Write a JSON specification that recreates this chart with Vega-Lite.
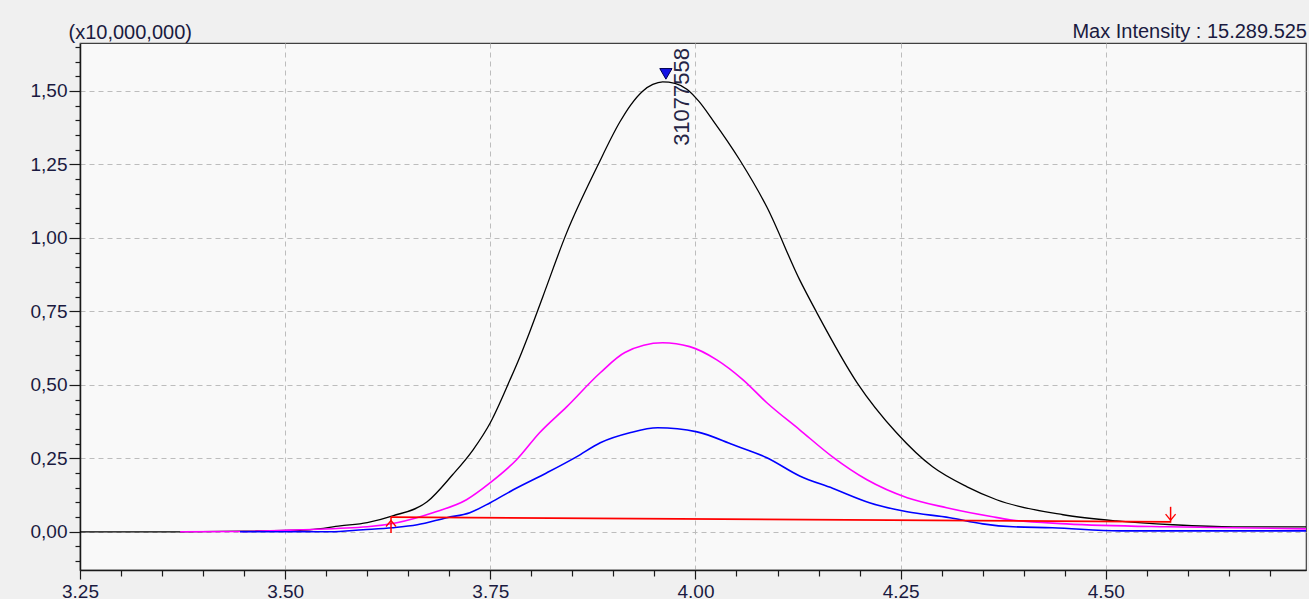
{
  "$schema": "https://vega.github.io/schema/vega-lite/v6.json",
  "autosize": {"type": "none"},
  "padding": {"left": 80, "top": 43, "right": 3, "bottom": 29},
  "width": 1226,
  "height": 527,
  "background": "#f0f0f0",
  "config": {
    "view": {"fill": "#f9f9f9", "stroke": "#404040", "strokeWidth": 1.2},
    "font": "Liberation Sans"
  },
  "datasets": {
    "curves": [
      {"series": "Total", "t": 3.250, "v": 0.000},
      {"series": "Total", "t": 3.372, "v": 0.000},
      {"series": "Total", "t": 3.450, "v": 0.002},
      {"series": "Total", "t": 3.530, "v": 0.007},
      {"series": "Total", "t": 3.567, "v": 0.020},
      {"series": "Total", "t": 3.600, "v": 0.031},
      {"series": "Total", "t": 3.631, "v": 0.054},
      {"series": "Total", "t": 3.673, "v": 0.102},
      {"series": "Total", "t": 3.704, "v": 0.194},
      {"series": "Total", "t": 3.729, "v": 0.279},
      {"series": "Total", "t": 3.750, "v": 0.371},
      {"series": "Total", "t": 3.774, "v": 0.517},
      {"series": "Total", "t": 3.786, "v": 0.595},
      {"series": "Total", "t": 3.798, "v": 0.680},
      {"series": "Total", "t": 3.814, "v": 0.800},
      {"series": "Total", "t": 3.843, "v": 1.017},
      {"series": "Total", "t": 3.880, "v": 1.241},
      {"series": "Total", "t": 3.908, "v": 1.395},
      {"series": "Total", "t": 3.921, "v": 1.452},
      {"series": "Total", "t": 3.936, "v": 1.500},
      {"series": "Total", "t": 3.948, "v": 1.522},
      {"series": "Total", "t": 3.960, "v": 1.531},
      {"series": "Total", "t": 3.975, "v": 1.526},
      {"series": "Total", "t": 3.990, "v": 1.505},
      {"series": "Total", "t": 4.004, "v": 1.465},
      {"series": "Total", "t": 4.021, "v": 1.401},
      {"series": "Total", "t": 4.054, "v": 1.265},
      {"series": "Total", "t": 4.087, "v": 1.105},
      {"series": "Total", "t": 4.127, "v": 0.857},
      {"series": "Total", "t": 4.148, "v": 0.745},
      {"series": "Total", "t": 4.197, "v": 0.507},
      {"series": "Total", "t": 4.245, "v": 0.337},
      {"series": "Total", "t": 4.289, "v": 0.221},
      {"series": "Total", "t": 4.331, "v": 0.153},
      {"series": "Total", "t": 4.367, "v": 0.109},
      {"series": "Total", "t": 4.448, "v": 0.058},
      {"series": "Total", "t": 4.513, "v": 0.037},
      {"series": "Total", "t": 4.582, "v": 0.024},
      {"series": "Total", "t": 4.655, "v": 0.017},
      {"series": "Total", "t": 4.744, "v": 0.017},

      {"series": "Ion1", "t": 3.372, "v": 0.000},
      {"series": "Ion1", "t": 3.445, "v": 0.001},
      {"series": "Ion1", "t": 3.518, "v": 0.007},
      {"series": "Ion1", "t": 3.600, "v": 0.017},
      {"series": "Ion1", "t": 3.636, "v": 0.031},
      {"series": "Ion1", "t": 3.680, "v": 0.065},
      {"series": "Ion1", "t": 3.721, "v": 0.109},
      {"series": "Ion1", "t": 3.750, "v": 0.167},
      {"series": "Ion1", "t": 3.782, "v": 0.245},
      {"series": "Ion1", "t": 3.810, "v": 0.337},
      {"series": "Ion1", "t": 3.843, "v": 0.425},
      {"series": "Ion1", "t": 3.884, "v": 0.541},
      {"series": "Ion1", "t": 3.914, "v": 0.610},
      {"series": "Ion1", "t": 3.960, "v": 0.643},
      {"series": "Ion1", "t": 3.993, "v": 0.630},
      {"series": "Ion1", "t": 4.026, "v": 0.585},
      {"series": "Ion1", "t": 4.058, "v": 0.517},
      {"series": "Ion1", "t": 4.087, "v": 0.439},
      {"series": "Ion1", "t": 4.127, "v": 0.347},
      {"series": "Ion1", "t": 4.167, "v": 0.255},
      {"series": "Ion1", "t": 4.209, "v": 0.177},
      {"series": "Ion1", "t": 4.258, "v": 0.116},
      {"series": "Ion1", "t": 4.306, "v": 0.082},
      {"series": "Ion1", "t": 4.362, "v": 0.051},
      {"series": "Ion1", "t": 4.383, "v": 0.041},
      {"series": "Ion1", "t": 4.452, "v": 0.027},
      {"series": "Ion1", "t": 4.574, "v": 0.017},
      {"series": "Ion1", "t": 4.655, "v": 0.014},
      {"series": "Ion1", "t": 4.744, "v": 0.010},

      {"series": "Ion2", "t": 3.445, "v": 0.000},
      {"series": "Ion2", "t": 3.555, "v": 0.000},
      {"series": "Ion2", "t": 3.595, "v": 0.007},
      {"series": "Ion2", "t": 3.631, "v": 0.014},
      {"series": "Ion2", "t": 3.661, "v": 0.024},
      {"series": "Ion2", "t": 3.697, "v": 0.048},
      {"series": "Ion2", "t": 3.725, "v": 0.065},
      {"series": "Ion2", "t": 3.750, "v": 0.099},
      {"series": "Ion2", "t": 3.778, "v": 0.143},
      {"series": "Ion2", "t": 3.819, "v": 0.201},
      {"series": "Ion2", "t": 3.855, "v": 0.255},
      {"series": "Ion2", "t": 3.884, "v": 0.303},
      {"series": "Ion2", "t": 3.920, "v": 0.337},
      {"series": "Ion2", "t": 3.954, "v": 0.354},
      {"series": "Ion2", "t": 4.002, "v": 0.340},
      {"series": "Ion2", "t": 4.046, "v": 0.296},
      {"series": "Ion2", "t": 4.087, "v": 0.252},
      {"series": "Ion2", "t": 4.127, "v": 0.190},
      {"series": "Ion2", "t": 4.167, "v": 0.148},
      {"series": "Ion2", "t": 4.212, "v": 0.099},
      {"series": "Ion2", "t": 4.258, "v": 0.068},
      {"series": "Ion2", "t": 4.310, "v": 0.048},
      {"series": "Ion2", "t": 4.350, "v": 0.027},
      {"series": "Ion2", "t": 4.387, "v": 0.017},
      {"series": "Ion2", "t": 4.435, "v": 0.014},
      {"series": "Ion2", "t": 4.517, "v": 0.003},
      {"series": "Ion2", "t": 4.744, "v": 0.003},

      {"series": "Baseline", "t": 3.629, "v": 0.050},
      {"series": "Baseline", "t": 4.579, "v": 0.034}
    ],
    "marks": [
      {"kind": "start", "t": 3.629, "v": 0.052, "v2": -0.004},
      {"kind": "end", "t": 4.579, "v": 0.085, "v2": 0.031}
    ],
    "peak": [
      {"t": 3.964, "v": 1.558, "v2": 1.313, "text": "31077558"}
    ],
    "header": [
      {"t": 4.744, "v": 1.663, "text": "Max Intensity : 15.289.525"}
    ]
  },
  "encoding": {
    "x": {
      "field": "t",
      "type": "quantitative",
      "scale": {"domain": [3.25, 4.744], "nice": false, "zero": false},
      "axis": {
        "title": null,
        "values": [3.25,3.30,3.35,3.40,3.45,3.50,3.55,3.60,3.65,3.70,3.75,3.80,3.85,3.90,3.95,4.00,4.05,4.10,4.15,4.20,4.25,4.30,4.35,4.40,4.45,4.50,4.55,4.60,4.65,4.70],
        "labelExpr": "abs(datum.value*4 - round(datum.value*4)) < 0.001 ? format(datum.value, '.2f') : ''",
        "labelOverlap": false,
        "labelFlush": false,
        "labelBound": false,
        "labelFont": "Liberation Sans",
        "labelFontSize": 19,
        "labelColor": "#1a1a40",
        "labelPadding": 3,
        "domainColor": "#1a1a1a",
        "domainWidth": 1.5,
        "tickColor": "#1a1a1a",
        "tickWidth": 1.2,
        "tickSize": {"condition": {"test": "abs(datum.value*4 - round(datum.value*4)) < 0.001", "value": 9}, "value": 6},
        "grid": true,
        "gridColor": "#bdbdbd",
        "gridDash": [5, 4],
        "gridWidth": 1,
        "gridOpacity": {"condition": {"test": "abs(datum.value*4 - round(datum.value*4)) < 0.001", "value": 1}, "value": 0}
      }
    },
    "y": {
      "field": "v",
      "type": "quantitative",
      "scale": {"domain": [-0.13, 1.663], "nice": false, "zero": false},
      "axis": {
        "title": "(x10,000,000)",
        "titleAngle": 0,
        "titleAlign": "left",
        "titleBaseline": "alphabetic",
        "titleX": -12,
        "titleY": -5,
        "titleFont": "Liberation Sans",
        "titleFontSize": 20,
        "titleFontWeight": "normal",
        "titleColor": "#1a1a40",
        "values": [-0.10,-0.05,0,0.05,0.10,0.15,0.20,0.25,0.30,0.35,0.40,0.45,0.50,0.55,0.60,0.65,0.70,0.75,0.80,0.85,0.90,0.95,1.00,1.05,1.10,1.15,1.20,1.25,1.30,1.35,1.40,1.45,1.50,1.55,1.60,1.65],
        "labelExpr": "abs(datum.value*4 - round(datum.value*4)) < 0.001 ? replace(format(datum.value, '.2f'), '.', ',') : ''",
        "labelOverlap": false,
        "labelFlush": false,
        "labelBound": false,
        "labelFont": "Liberation Sans",
        "labelFontSize": 19,
        "labelColor": "#1a1a40",
        "labelPadding": 2,
        "domainColor": "#1a1a1a",
        "domainWidth": 1.5,
        "tickColor": "#1a1a1a",
        "tickWidth": 1.2,
        "tickSize": {"condition": {"test": "abs(datum.value*4 - round(datum.value*4)) < 0.001", "value": 11}, "value": 5},
        "grid": true,
        "gridColor": "#bdbdbd",
        "gridDash": [5, 4],
        "gridWidth": 1,
        "gridOpacity": {"condition": {"test": "abs(datum.value*4 - round(datum.value*4)) < 0.001", "value": 1}, "value": 0}
      }
    }
  },
  "layer": [
    {
      "data": {"name": "curves"},
      "transform": [{"filter": "datum.series === 'Total'"}],
      "mark": {"type": "line", "color": "#000000", "strokeWidth": 1.3, "interpolate": "monotone", "clip": true}
    },
    {
      "data": {"name": "curves"},
      "transform": [{"filter": "datum.series === 'Ion1'"}],
      "mark": {"type": "line", "color": "#ff00ff", "strokeWidth": 1.6, "interpolate": "monotone", "clip": true}
    },
    {
      "data": {"name": "curves"},
      "transform": [{"filter": "datum.series === 'Ion2'"}],
      "mark": {"type": "line", "color": "#0000ff", "strokeWidth": 1.6, "interpolate": "monotone", "clip": true}
    },
    {
      "data": {"name": "curves"},
      "transform": [{"filter": "datum.series === 'Baseline'"}],
      "mark": {"type": "line", "color": "#ff0000", "strokeWidth": 1.8, "clip": true}
    },
    {
      "data": {"name": "marks"},
      "mark": {"type": "rule", "color": "#ff0000", "strokeWidth": 1.5},
      "encoding": {"y2": {"field": "v2"}}
    },
    {
      "data": {"name": "marks"},
      "transform": [{"filter": "datum.kind === 'start'"}],
      "mark": {"type": "point", "shape": "M-1,0.7L0,-0.5L1,0.7", "filled": false, "stroke": "#ff0000", "strokeWidth": 1.3, "size": 100, "opacity": 1},
      "encoding": {"y": {"field": "v2", "type": "quantitative"}, "yOffset": {"value": -10}}
    },
    {
      "data": {"name": "marks"},
      "transform": [{"filter": "datum.kind === 'end'"}],
      "mark": {"type": "point", "shape": "M-1,-0.7L0,0.5L1,-0.7", "filled": false, "stroke": "#ff0000", "strokeWidth": 1.3, "size": 100, "opacity": 1},
      "encoding": {"y": {"field": "v2", "type": "quantitative"}, "yOffset": {"value": -5}}
    },
    {
      "data": {"name": "peak"},
      "mark": {"type": "point", "shape": "triangle-down", "filled": true, "fill": "#1414e6", "stroke": "#000050", "strokeWidth": 1, "size": 150, "opacity": 1}
    },
    {
      "data": {"name": "peak"},
      "mark": {"type": "text", "angle": 270, "align": "left", "baseline": "middle", "font": "Liberation Sans", "fontSize": 22, "color": "#252545", "dx": 0, "dy": 16},
      "encoding": {"y": {"field": "v2", "type": "quantitative"}, "text": {"field": "text"}}
    },
    {
      "data": {"name": "header"},
      "mark": {"type": "text", "align": "right", "baseline": "alphabetic", "font": "Liberation Sans", "fontSize": 20, "color": "#1a1a40", "dx": 1, "dy": -5, "clip": false},
      "encoding": {"text": {"field": "text"}}
    }
  ]
}
